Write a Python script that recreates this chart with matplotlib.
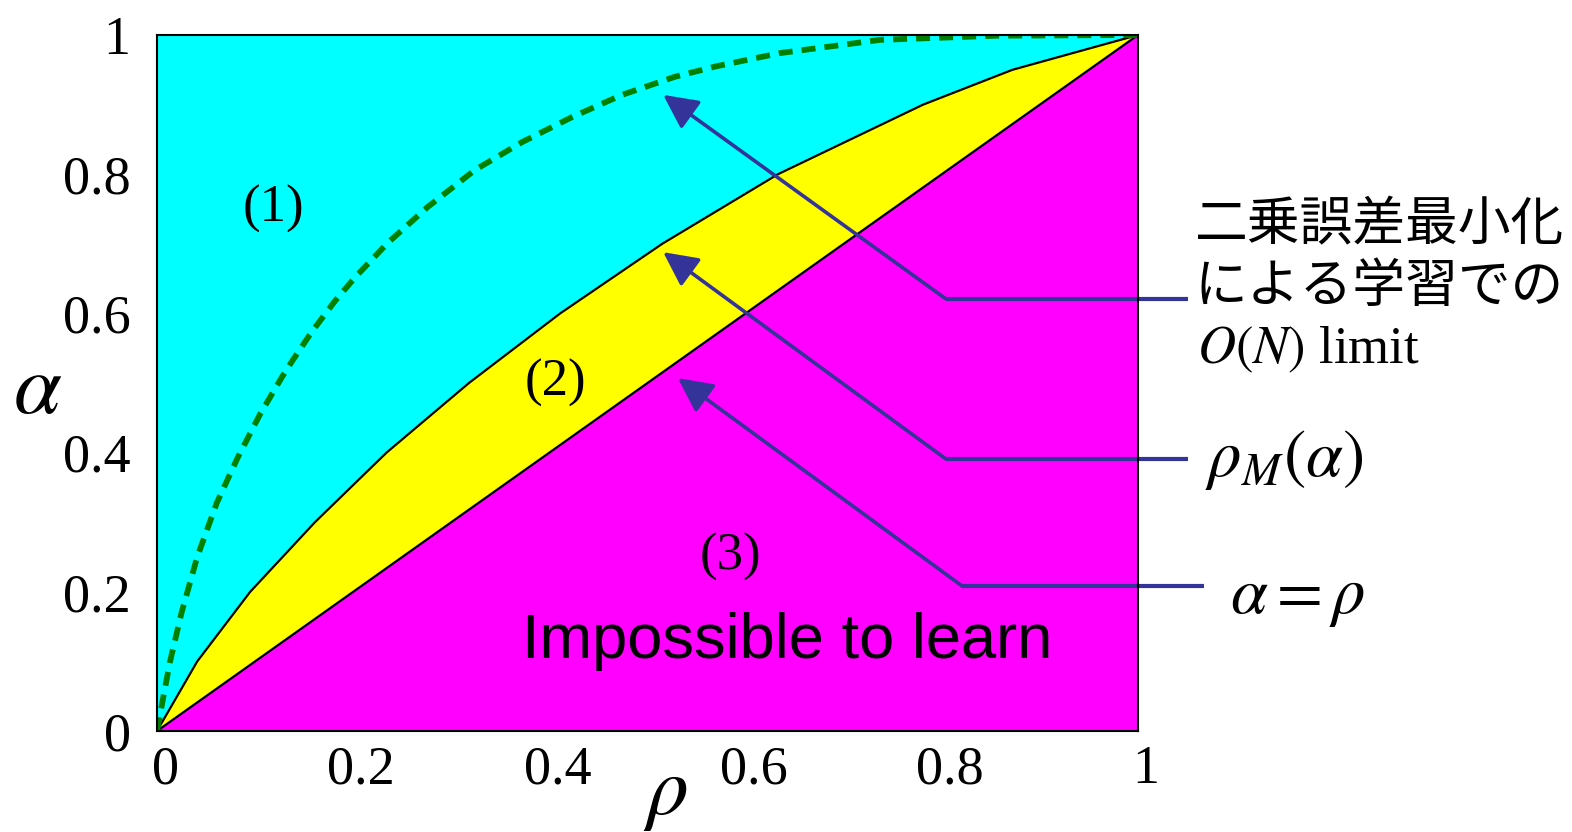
import matplotlib
matplotlib.use("Agg")
import matplotlib.pyplot as plt
import matplotlib.transforms as mtransforms

plt.rcParams['mathtext.fontset'] = 'stix'
plt.rcParams['font.family'] = ['Liberation Serif', 'DejaVu Serif']

# rho_M(alpha): boundary between region (1) and region (2)
alpha_grid = [0.0, 0.1, 0.2, 0.3, 0.4, 0.5, 0.6, 0.7, 0.8, 0.9, 0.95, 1.0]
rho_M = [0.0, 0.041, 0.095, 0.161, 0.234, 0.318, 0.411, 0.515, 0.633, 0.781, 0.872, 1.0]

# O(N) limit of learning by squared-error minimisation (dashed curve)
rho_lim = [0.0, 0.013, 0.025, 0.041, 0.061, 0.082, 0.105, 0.128, 0.138, 0.158,
           0.181, 0.202, 0.235, 0.276, 0.324, 0.372, 0.423, 0.474, 0.528, 0.57,
           0.635, 0.737, 0.856, 1.0]
alpha_lim = [0.0, 0.098, 0.170, 0.250, 0.328, 0.392, 0.455, 0.510, 0.532, 0.574,
             0.617, 0.652, 0.701, 0.753, 0.806, 0.846, 0.882, 0.914, 0.940, 0.955,
             0.974, 0.993, 0.999, 1.0]

# alpha = rho diagonal
diag = [0.0, 1.0]

ticks = [0, 0.2, 0.4, 0.6, 0.8, 1]
tick_labels = ['0', '0.2', '0.4', '0.6', '0.8', '1']

CYAN, YELLOW, MAGENTA = '#00FFFF', '#FFFF00', '#FF00FF'
GREEN = '#008000'
ARROW = '#333399'

fig = plt.figure(figsize=(15.72, 8.32), dpi=100)
ax = fig.add_axes([157 / 1572, 101 / 832, 981 / 1572, 696 / 832])
ax.set_facecolor(CYAN)
ax.set_xlim(0, 1)
ax.set_ylim(0, 1)

# region (2): between the diagonal and rho_M(alpha)
ax.fill(rho_M, alpha_grid, color=YELLOW, zorder=1, lw=0)
# region (3): below the diagonal
ax.fill_between(diag, 0, diag, color=MAGENTA, zorder=1, lw=0)
ax.plot(rho_M, alpha_grid, color='black', lw=1.6, zorder=2)
ax.plot(diag, diag, color='black', lw=1.6, zorder=2)
ax.plot(rho_lim, alpha_lim, color=GREEN, lw=4.2, dashes=(2.4, 1.55), zorder=3,
        solid_capstyle='butt', dash_capstyle='butt')

for s in ax.spines.values():
    s.set_linewidth(1.5)
    s.set_zorder(5)

ax.set_xticks(ticks)
ax.set_xticklabels(tick_labels)
ax.set_yticks(ticks)
ax.set_yticklabels(tick_labels)
ax.tick_params(length=0, labelsize=39)
ax.tick_params(axis='x', pad=10)
ax.tick_params(axis='y', pad=19)
shift = mtransforms.ScaledTranslation(8 / 100, 0, fig.dpi_scale_trans)
for lab in ax.get_xticklabels():
    lab.set_transform(lab.get_transform() + shift)

# axis symbols
ax.text(-0.122, 0.486, r'$\alpha$', fontsize=62, ha='center', va='center',
        transform=ax.transAxes, clip_on=False)
ax.text(0.518, -0.093, r'$\rho$', fontsize=60, ha='center', va='center',
        transform=ax.transAxes, clip_on=False)

# region labels
ax.text(0.119, 0.750, '(1)', fontsize=38, ha='center', va='center')
ax.text(0.406, 0.500, '(2)', fontsize=38, ha='center', va='center')
ax.text(0.585, 0.250, '(3)', fontsize=38, ha='center', va='center')
ax.text(0.642, 0.128, 'Impossible to learn', fontsize=45.5, ha='center', va='center',
        family=['Liberation Sans', 'DejaVu Sans'])

# callouts: (end of leader, elbow, arrow tip)
callouts = [
    ((1.051, 0.621), (0.804, 0.621), (0.516, 0.914)),
    ((1.051, 0.391), (0.804, 0.391), (0.516, 0.688)),
    ((1.067, 0.208), (0.821, 0.208), (0.531, 0.507)),
]
for end, elbow, tip in callouts:
    ax.plot([end[0], elbow[0]], [end[1], elbow[1]], color=ARROW, lw=3.0,
            clip_on=False, zorder=4, solid_capstyle='butt')
    ax.annotate('', xy=tip, xytext=elbow,
                arrowprops=dict(arrowstyle='-|>,head_length=1.0,head_width=0.5',
                                mutation_scale=21, color=ARROW, lw=2.6,
                                shrinkA=0, shrinkB=0),
                zorder=4, annotation_clip=False)

jp = ['Noto Sans CJK JP', 'DejaVu Sans']
ax.text(1.058, 0.727, '二乗誤差最小化', fontsize=38, family=jp, ha='left', va='center',
        clip_on=False)
ax.text(1.058, 0.638, 'による学習での', fontsize=38, family=jp, ha='left', va='center',
        clip_on=False)
ax.text(1.060, 0.547, r'$O(N)$ limit', fontsize=38, ha='left', va='center',
        clip_on=False)
ax.text(1.068, 0.389, r'$\rho_M(\alpha)$', fontsize=48, ha='left', va='center',
        clip_on=False)
ax.text(1.094, 0.191, r'$\alpha = \rho$', fontsize=48, ha='left', va='center',
        clip_on=False)

fig.savefig('out.png', dpi=100)
